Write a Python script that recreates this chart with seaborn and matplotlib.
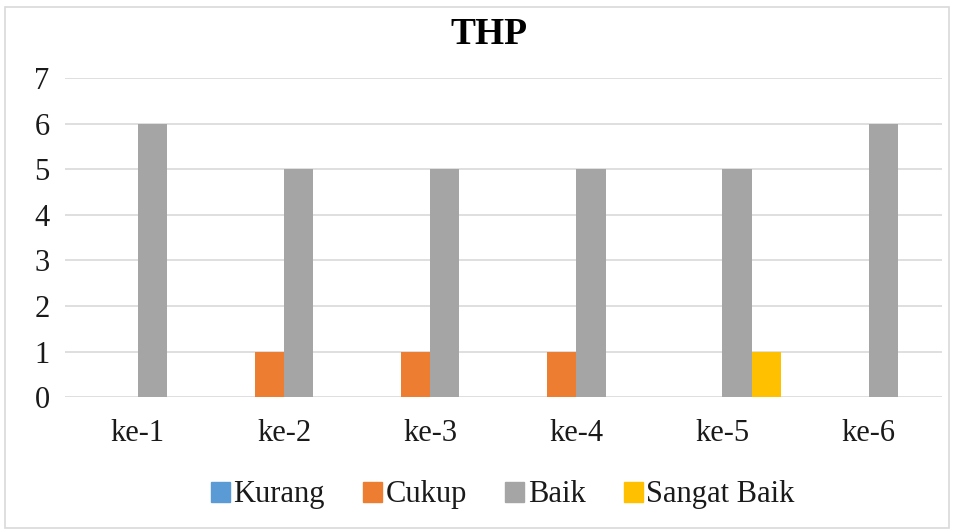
import pandas as pd
import seaborn as sns
import matplotlib.pyplot as plt
from matplotlib.patches import Rectangle

# data
pertemuan = ['ke-1', 'ke-2', 'ke-3', 'ke-4', 'ke-5', 'ke-6']
kurang = [0, 0, 0, 0, 0, 0]
cukup = [0, 1, 1, 1, 0, 0]
baik = [6, 5, 5, 5, 5, 6]
sangat_baik = [0, 0, 0, 0, 1, 0]

kategori = ['Kurang', 'Cukup', 'Baik', 'Sangat Baik']
warna = ['#5B9BD5', '#ED7D31', '#A5A5A5', '#FFC000']

df = pd.DataFrame({'Pertemuan': pertemuan, 'Kurang': kurang, 'Cukup': cukup,
                   'Baik': baik, 'Sangat Baik': sangat_baik})
df = df.melt(id_vars='Pertemuan', var_name='Kategori', value_name='Jumlah')

sns.set_style('white')
plt.rcParams['font.family'] = ['Liberation Serif', 'DejaVu Serif']

fig = plt.figure(figsize=(9.54, 5.31), dpi=100)
ax = fig.add_axes([0.068, 0.252, 0.919, 0.601])

sns.barplot(data=df, x='Pertemuan', y='Jumlah', hue='Kategori', hue_order=kategori,
            palette=warna, width=0.8, saturation=1, linewidth=0, ax=ax, legend=False)

ax.set_ylim(0, 7)
ax.set_xlim(-0.5, 5.5)
ax.set_yticks(range(0, 8))
ax.yaxis.grid(True, color='#d9d9d9', linewidth=1.2)
ax.set_axisbelow(True)
for s in ax.spines.values():
    s.set_visible(False)
ax.tick_params(axis='both', length=0, labelsize=22, colors='#1a1a1a')
ax.tick_params(axis='y', pad=11)
ax.tick_params(axis='x', pad=16)
ax.set_xlabel('')
ax.set_ylabel('')

fig.text(0.513, 0.935, 'THP', ha='center', va='center', fontsize=27,
         fontweight='bold', color='black')

handles = [Rectangle((0, 0), 1, 1, color=c) for c in warna]
fig.legend(handles, kategori, loc='center', bbox_to_anchor=(0.527, 0.068), ncol=4,
           frameon=False, fontsize=22, handlelength=0.62, handleheight=0.62,
           handletextpad=0.12, columnspacing=1.25, labelcolor='#1a1a1a')

# light border around the whole chart area
fig.patches.append(Rectangle((0.005, 0.005), 0.99, 0.982, transform=fig.transFigure,
                             fill=False, edgecolor='#d9d9d9', linewidth=1.2))

fig.savefig('out.png', dpi=100)
